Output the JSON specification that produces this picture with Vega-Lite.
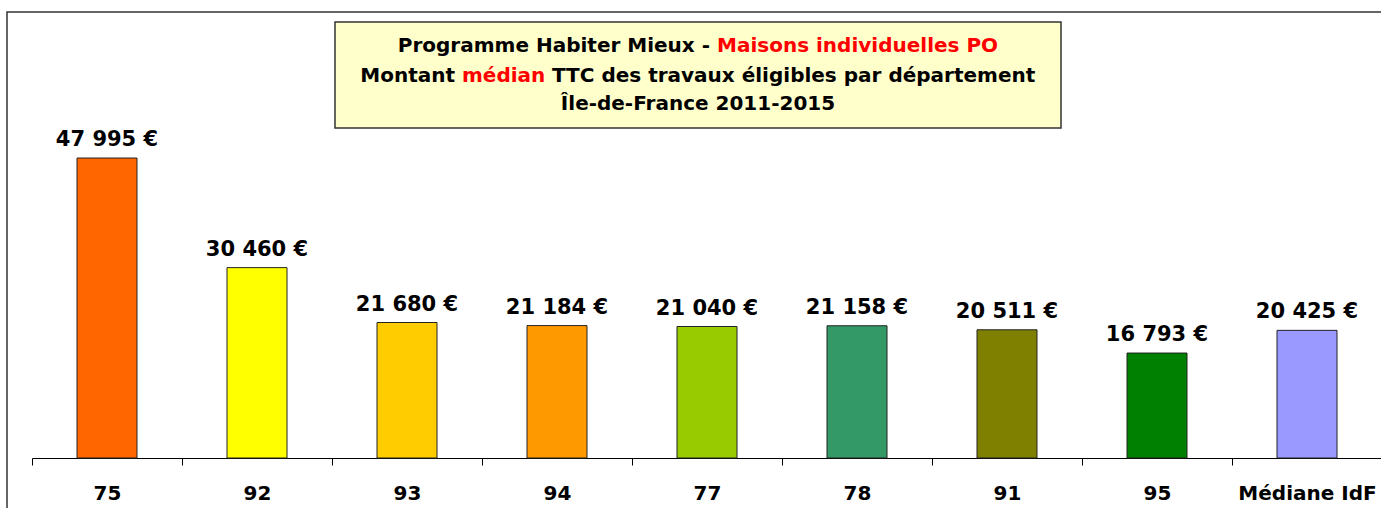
{
  "$schema": "https://vega.github.io/schema/vega-lite/v6.json",
  "width": 1400,
  "height": 510,
  "padding": {"left": 7, "top": 12, "right": 0, "bottom": 0},
  "background": "white",
  "config": {
    "font": "DejaVu Sans",
    "view": {"stroke": "#333333", "strokeWidth": 1.5},
    "locale": {"number": {"decimal": ",", "thousands": " ", "grouping": [3], "currency": ["", " €"]}}
  },
  "datasets": {
    "depts": [
      {"dept": "75", "montant": 47995},
      {"dept": "92", "montant": 30460},
      {"dept": "93", "montant": 21680},
      {"dept": "94", "montant": 21184},
      {"dept": "77", "montant": 21040},
      {"dept": "78", "montant": 21158},
      {"dept": "91", "montant": 20511},
      {"dept": "95", "montant": 16793},
      {"dept": "Médiane IdF", "montant": 20425}
    ]
  },
  "layer": [
    {
      "data": {"name": "depts"},
      "mark": {"type": "bar", "stroke": "#222222", "strokeWidth": 1, "width": 60},
      "encoding": {
        "x": {
          "field": "dept",
          "type": "nominal",
          "scale": {
            "domain": ["75", "92", "93", "94", "77", "78", "91", "95", "Médiane IdF"],
            "range": [25, 1375],
            "paddingInner": 0,
            "paddingOuter": 0
          },
          "axis": {
            "title": null,
            "labelAngle": 0,
            "domainColor": "black",
            "domainWidth": 1,
            "tickColor": "black",
            "tickWidth": 1,
            "tickSize": 7,
            "tickBand": "extent",
            "labelFont": "DejaVu Sans",
            "labelFontSize": 20,
            "labelFontWeight": "bold",
            "labelColor": "black",
            "labelPadding": 18,
            "offset": -64,
            "grid": false
          }
        },
        "y": {
          "field": "montant",
          "type": "quantitative",
          "stack": null,
          "scale": {"domain": [-10240, 71360], "nice": false, "zero": false},
          "axis": null
        },
        "color": {
          "field": "dept",
          "type": "nominal",
          "scale": {
            "domain": ["75", "92", "93", "94", "77", "78", "91", "95", "Médiane IdF"],
            "range": ["#FF6600", "#FFFF00", "#FFCC00", "#FF9900", "#99CC00", "#339966", "#808000", "#008000", "#9999FF"]
          },
          "legend": null
        }
      }
    },
    {
      "data": {"name": "depts"},
      "mark": {"type": "text", "font": "DejaVu Sans", "fontSize": 21, "fontWeight": "bold", "color": "black", "baseline": "alphabetic", "dy": -12},
      "encoding": {
        "x": {"field": "dept", "type": "nominal"},
        "y": {"field": "montant", "type": "quantitative"},
        "text": {"field": "montant", "type": "quantitative", "format": "$,.0f"}
      }
    },
    {
      "data": {"values": [{}]},
      "mark": {"type": "bar", "fill": "#FFFFCC", "stroke": "#333333", "strokeWidth": 1.5, "width": 726, "xOffset": -9},
      "encoding": {
        "x": {"datum": "77", "type": "nominal"},
        "y": {"datum": 69760, "type": "quantitative"},
        "y2": {"datum": 52800}
      }
    },
    {
      "data": {"values": [{}]},
      "mark": {"type": "text", "font": "DejaVu Sans", "fontSize": 20, "fontWeight": "bold", "color": "black", "align": "right", "baseline": "middle", "dx": 3},
      "encoding": {
        "x": {"datum": "77", "type": "nominal"},
        "y": {"datum": 65920, "type": "quantitative"},
        "text": {"value": "Programme Habiter Mieux -"}
      }
    },
    {
      "data": {"values": [{}]},
      "mark": {"type": "text", "font": "DejaVu Sans", "fontSize": 20, "fontWeight": "bold", "color": "#FF0000", "align": "left", "baseline": "middle", "dx": 10},
      "encoding": {
        "x": {"datum": "77", "type": "nominal"},
        "y": {"datum": 65920, "type": "quantitative"},
        "text": {"value": "Maisons individuelles PO"}
      }
    },
    {
      "data": {"values": [{}]},
      "mark": {"type": "text", "font": "DejaVu Sans", "fontSize": 20, "fontWeight": "bold", "color": "black", "align": "right", "baseline": "middle", "dx": -252},
      "encoding": {
        "x": {"datum": "77", "type": "nominal"},
        "y": {"datum": 61120, "type": "quantitative"},
        "text": {"value": "Montant"}
      }
    },
    {
      "data": {"values": [{}]},
      "mark": {"type": "text", "font": "DejaVu Sans", "fontSize": 20, "fontWeight": "bold", "color": "#FF0000", "align": "left", "baseline": "middle", "dx": -245},
      "encoding": {
        "x": {"datum": "77", "type": "nominal"},
        "y": {"datum": 61120, "type": "quantitative"},
        "text": {"value": "médian"}
      }
    },
    {
      "data": {"values": [{}]},
      "mark": {"type": "text", "font": "DejaVu Sans", "fontSize": 20, "fontWeight": "bold", "color": "black", "align": "left", "baseline": "middle", "dx": -155},
      "encoding": {
        "x": {"datum": "77", "type": "nominal"},
        "y": {"datum": 61120, "type": "quantitative"},
        "text": {"value": "TTC des travaux éligibles par département"}
      }
    },
    {
      "data": {"values": [{}]},
      "mark": {"type": "text", "font": "DejaVu Sans", "fontSize": 20, "fontWeight": "bold", "color": "black", "align": "center", "baseline": "middle", "dx": -9},
      "encoding": {
        "x": {"datum": "77", "type": "nominal"},
        "y": {"datum": 56640, "type": "quantitative"},
        "text": {"value": "Île-de-France 2011-2015"}
      }
    }
  ]
}
